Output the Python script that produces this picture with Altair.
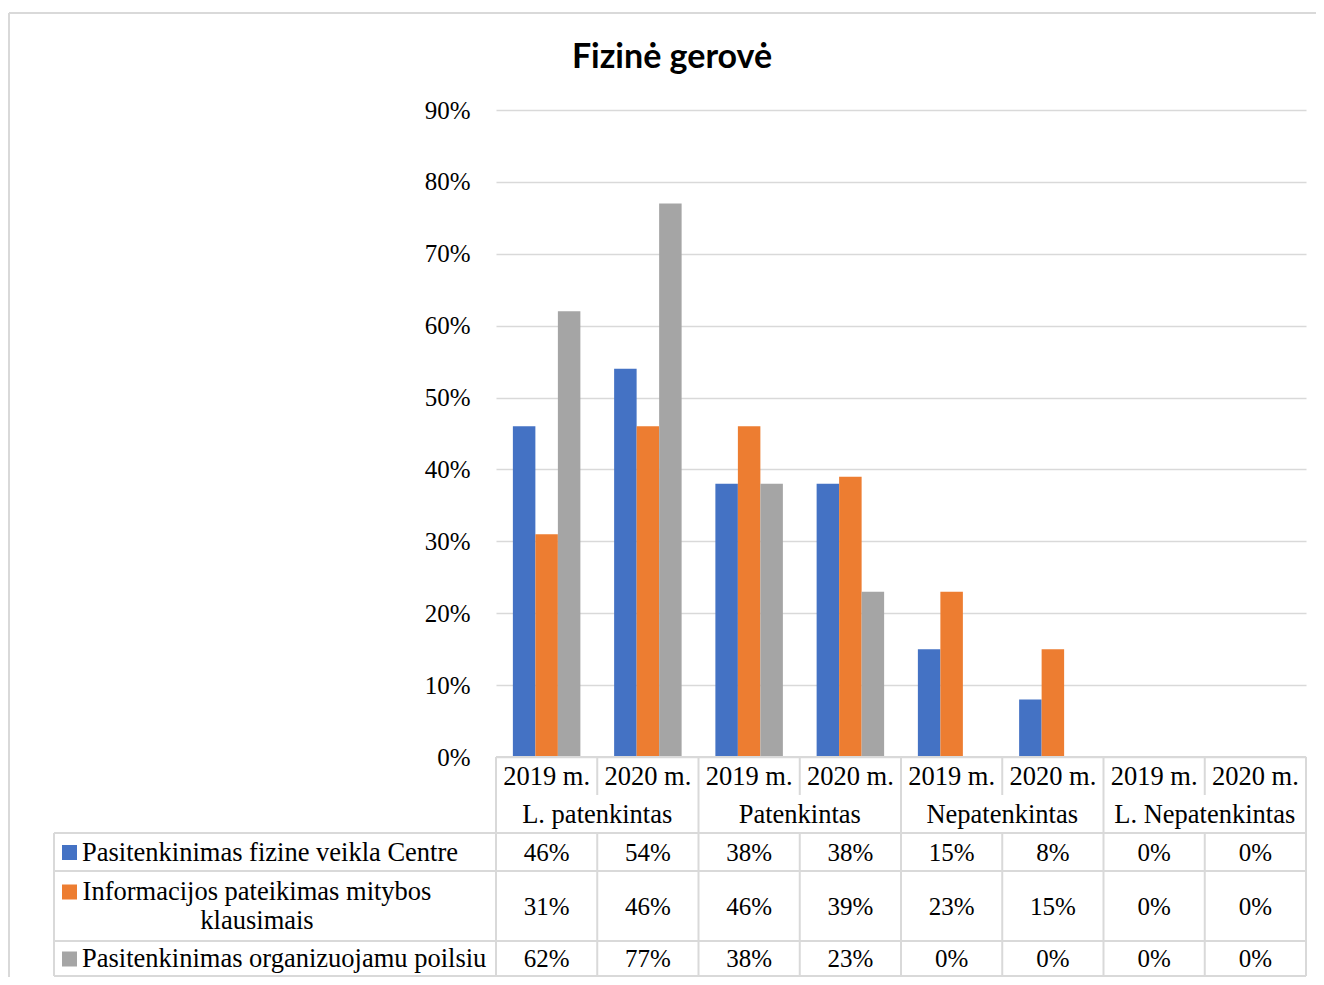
import altair as alt
import pandas as pd

# ---- data ----
groups = ["L. patenkintas", "Patenkintas", "Nepatenkintas", "L. Nepatenkintas"]
years = ["2019 m.", "2020 m."]
series = [
    "Pasitenkinimas fizine veikla Centre",
    "Informacijos pateikimas mitybos klausimais",
    "Pasitenkinimas organizuojamu poilsiu",
]
vals_fizine = [0.46, 0.54, 0.38, 0.38, 0.15, 0.08, 0.0, 0.0]
vals_informacija = [0.31, 0.46, 0.46, 0.39, 0.23, 0.15, 0.0, 0.0]
vals_poilsis = [0.62, 0.77, 0.38, 0.23, 0.0, 0.0, 0.0, 0.0]
colors = ["#4472C4", "#ED7D31", "#A5A5A5"]
y_ticks = [0.0, 0.1, 0.2, 0.3, 0.4, 0.5, 0.6, 0.7, 0.8, 0.9]
title_text = "Fizinė gerovė"

# ---- tables ----
cols = [f"{g}|{y}" for g in groups for y in years]
col_group = [g for g in groups for y in years]
col_year = [y for g in groups for y in years]
all_vals = [vals_fizine, vals_informacija, vals_poilsis]
rows = []
for s, vals in zip(series, all_vals):
    for c, g, yr, v in zip(cols, col_group, col_year, vals):
        rows.append({"col": c, "group": g, "year": yr, "series": s, "value": v})
df = pd.DataFrame(rows)
cols_df = pd.DataFrame({"col": cols, "group": col_group, "year": col_year})
grp_df = cols_df[cols_df["year"] == years[1]].copy()
first_df = cols_df[cols_df["year"] == years[0]].copy()
second_df = cols_df[cols_df["year"] == years[1]].copy()
last_df = cols_df.tail(1).copy()

# ---- layout (pixels) ----
W, H = 810, 647
SERIF = "Liberation Serif"
FS_TXT = 26.5
FS_NUM = 25
LINE = "#d9d9d9"
LW = 2
year_y = 667
year_bottom = 685
group_y = 705
row_lines = [723, 761, 831, 866]
row_centers = [742.5, 796.5, 849]
legend_left = -442
sq_x = -426.5
lab_x = -414
wrap_lh = 29

xscale = alt.Scale(domain=cols, paddingInner=0, paddingOuter=0)


def X(**kw):
    return alt.X("col:N", sort=cols, scale=xscale, axis=None, **kw)


bars = alt.Chart(df).mark_bar().encode(
    x=X(),
    xOffset=alt.XOffset("series:N", sort=series,
                        scale=alt.Scale(domain=series, paddingInner=0, paddingOuter=0.75)),
    y=alt.Y("value:Q",
            scale=alt.Scale(domain=[0, 0.9], nice=False),
            axis=alt.Axis(values=y_ticks, format=".0%", grid=True, gridColor=LINE,
                          gridWidth=1.3, domain=False, ticks=False, labelFont=SERIF,
                          labelFontSize=FS_NUM, labelColor="#000000", labelPadding=26,
                          title=None)),
    color=alt.Color("series:N", scale=alt.Scale(domain=series, range=colors), legend=None),
)

layers = [bars]

# horizontal table lines
hl = [(H, 0)] + [(y, legend_left) for y in row_lines]
for yv, x0 in hl:
    layers.append(
        alt.Chart(cols_df.head(1)).mark_rule(color=LINE, strokeWidth=LW).encode(
            x=alt.value(x0), x2=alt.value(W), y=alt.value(yv))
    )

# vertical lines
layers.append(alt.Chart(cols_df).mark_rule(color=LINE, strokeWidth=LW).encode(
    x=X(bandPosition=0), y=alt.value(row_lines[0]), y2=alt.value(row_lines[-1])))
layers.append(alt.Chart(first_df).mark_rule(color=LINE, strokeWidth=LW).encode(
    x=X(bandPosition=0), y=alt.value(H), y2=alt.value(row_lines[0])))
layers.append(alt.Chart(second_df).mark_rule(color=LINE, strokeWidth=LW).encode(
    x=X(bandPosition=0), y=alt.value(H), y2=alt.value(year_bottom)))
layers.append(alt.Chart(last_df).mark_rule(color=LINE, strokeWidth=LW).encode(
    x=X(bandPosition=1), y=alt.value(H), y2=alt.value(row_lines[-1])))
layers.append(alt.Chart(cols_df.head(1)).mark_rule(color=LINE, strokeWidth=LW).encode(
    x=alt.value(legend_left), y=alt.value(row_lines[0]), y2=alt.value(row_lines[-1])))

# outer frame (top & left)
layers.append(alt.Chart(cols_df.head(1)).mark_rule(color=LINE, strokeWidth=LW).encode(
    x=alt.value(-487), x2=alt.value(W + 12), y=alt.value(-97)))
layers.append(alt.Chart(cols_df.head(1)).mark_rule(color=LINE, strokeWidth=LW).encode(
    x=alt.value(-487), y=alt.value(-97), y2=alt.value(H + 240)))

# header texts
layers.append(alt.Chart(cols_df).mark_text(font=SERIF, fontSize=FS_TXT, color="#000000",
                                           baseline="middle").encode(
    x=X(), y=alt.value(year_y), text="year:N"))
layers.append(alt.Chart(grp_df).mark_text(font=SERIF, fontSize=FS_TXT, color="#000000",
                                          baseline="middle").encode(
    x=X(bandPosition=0), y=alt.value(group_y), text="group:N"))

# data rows
wrapped = {series[1]: "Informacijos pateikimas mitybos\nklausimais"}
for i, s in enumerate(series):
    sdf = df[df["series"] == s]
    layers.append(alt.Chart(sdf).mark_text(font=SERIF, fontSize=FS_NUM, color="#000000",
                                           baseline="middle").encode(
        x=X(), y=alt.value(row_centers[i]), text=alt.Text("value:Q", format=".0%")))
    top_y = row_centers[i] - wrap_lh / 2 if s in wrapped else row_centers[i]
    ldf = pd.DataFrame({"series": [s], "label": [wrapped.get(s, s)]})
    layers.append(alt.Chart(ldf).mark_square(size=225, opacity=1).encode(
        x=alt.value(sq_x), y=alt.value(top_y),
        color=alt.Color("series:N", scale=alt.Scale(domain=series, range=colors), legend=None)))
    if s in wrapped:
        layers.append(alt.Chart(ldf).mark_text(font=SERIF, fontSize=FS_TXT, color="#000000",
                                               baseline="middle", align="center",
                                               lineBreak="\n", lineHeight=wrap_lh).encode(
            x=alt.value(-239), y=alt.value(top_y), text="label:N"))
    else:
        layers.append(alt.Chart(ldf).mark_text(font=SERIF, fontSize=FS_TXT, color="#000000",
                                               baseline="middle", align="left").encode(
            x=alt.value(lab_x), y=alt.value(row_centers[i]), text="label:N"))

# title
tdf = pd.DataFrame({"t": [title_text]})
layers.append(alt.Chart(tdf).mark_text(font="Lato", fontSize=34, fontWeight="bold",
                                       color="#000000", baseline="middle").encode(
    x=alt.value(176), y=alt.value(-52), text="t:N"))

chart = alt.layer(*layers).properties(
    width=W, height=H,
    autosize=alt.AutoSizeParams(type="none"),
    padding={"left": 488, "top": 102, "right": 10, "bottom": 220},
    background="white",
).configure_view(stroke=None)

chart.save("out.html", embed_options={"renderer": "svg", "actions": False})
